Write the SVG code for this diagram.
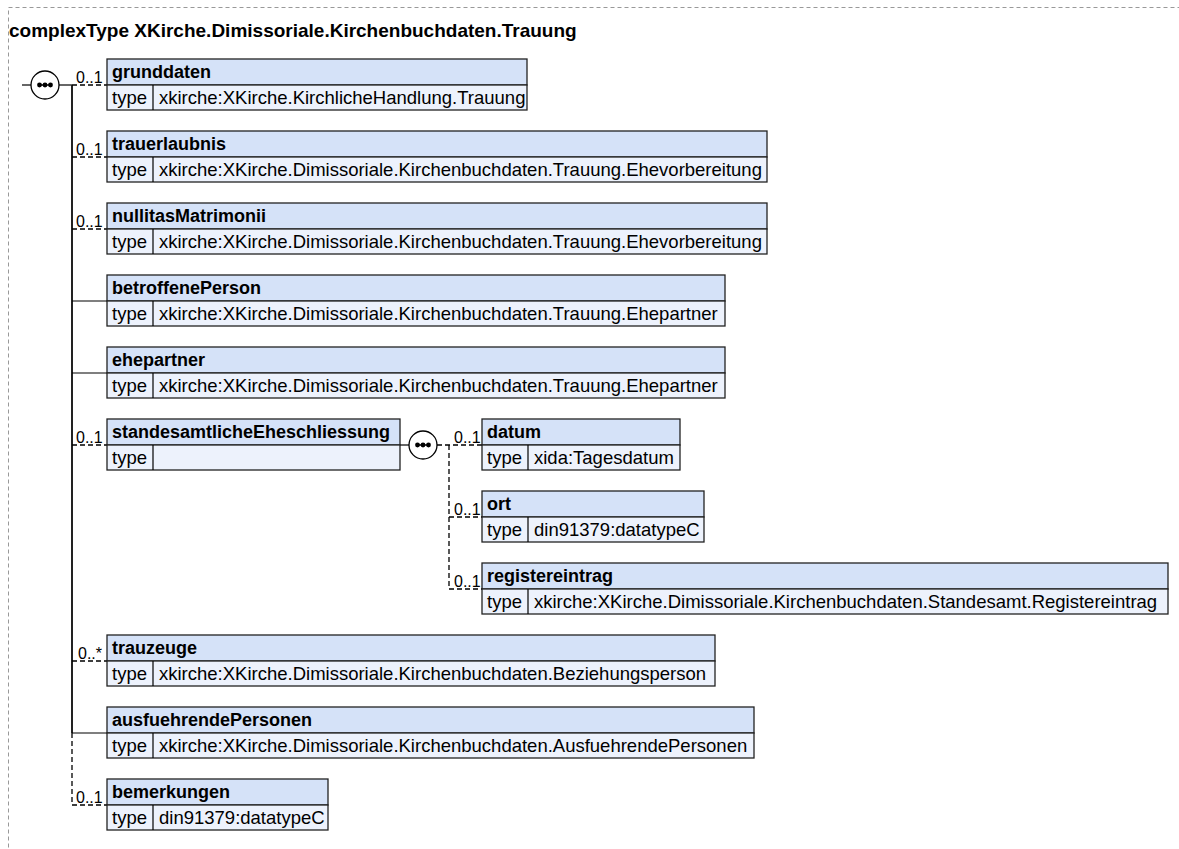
<svg xmlns="http://www.w3.org/2000/svg" width="1179" height="849" viewBox="0 0 1179 849">
<style>
text{font-family:"Liberation Sans",Arial,sans-serif;fill:#000}
.title{font-size:19px;font-weight:bold}
.name{font-size:18px;font-weight:bold}
.t{font-size:18.5px}
.card{font-size:16px}
.hd{fill:#d5e2f8;stroke:#222;stroke-width:1.3}
.tr{fill:#edf2fc;stroke:#222;stroke-width:1.3}
.solid{stroke:#000;stroke-width:1.2;fill:none}
.dash{stroke:#000;stroke-width:1.3;fill:none;stroke-dasharray:5,3}
.main{stroke:#222;stroke-width:2;fill:none}
.comp{fill:#fff;stroke:#000;stroke-width:1.3}
</style>
<rect x="8.5" y="7.5" width="1180" height="850" fill="none" stroke="#999" stroke-dasharray="4,3"/>
<text class="title" x="9" y="37">complexType XKirche.Dimissoriale.Kirchenbuchdaten.Trauung</text>

<g id="connectors">
<line class="solid" x1="22" y1="85" x2="31" y2="85"/>
<line class="solid" x1="59" y1="85" x2="72" y2="85"/>
<line class="main" x1="72" y1="85" x2="72" y2="733"/>
<line class="dash" x1="72" y1="733" x2="72" y2="805"/>
<line class="dash" x1="72" y1="85" x2="107" y2="85"/>
<line class="dash" x1="72" y1="157" x2="107" y2="157"/>
<line class="dash" x1="72" y1="229" x2="107" y2="229"/>
<line class="solid" x1="72" y1="301" x2="107" y2="301"/>
<line class="solid" x1="72" y1="373" x2="107" y2="373"/>
<line class="dash" x1="72" y1="445" x2="107" y2="445"/>
<line class="dash" x1="72" y1="661" x2="107" y2="661"/>
<line class="solid" x1="72" y1="733" x2="107" y2="733"/>
<line class="dash" x1="72" y1="805" x2="107" y2="805"/>
<line class="solid" x1="400" y1="445" x2="409" y2="445"/>
<line class="dash" x1="437" y1="445" x2="482" y2="445"/>
<line class="dash" x1="449" y1="445" x2="449" y2="589"/>
<line class="dash" x1="449" y1="517" x2="482" y2="517"/>
<line class="dash" x1="449" y1="589" x2="482" y2="589"/>
<text class="card" x="76" y="83">0..1</text>
<text class="card" x="76" y="155">0..1</text>
<text class="card" x="76" y="227">0..1</text>
<text class="card" x="76" y="443">0..1</text>
<text class="card" x="78" y="659">0..*</text>
<text class="card" x="76" y="803">0..1</text>
<text class="card" x="454" y="443">0..1</text>
<text class="card" x="454" y="515">0..1</text>
<text class="card" x="454" y="587">0..1</text>
</g>

<g id="seq1">
<circle class="comp" cx="45" cy="85" r="14"/>
<line x1="38" y1="85" x2="52" y2="85" stroke="#000" stroke-width="1.5"/>
<circle cx="39.5" cy="85" r="2.4"/><circle cx="45" cy="85" r="2.4"/><circle cx="50.5" cy="85" r="2.4"/>
</g>
<g id="seq2">
<circle class="comp" cx="423" cy="445" r="14"/>
<line x1="416" y1="445" x2="430" y2="445" stroke="#000" stroke-width="1.5"/>
<circle cx="417.5" cy="445" r="2.4"/><circle cx="423" cy="445" r="2.4"/><circle cx="428.5" cy="445" r="2.4"/>
</g>

<g id="grunddaten">
<rect class="hd" x="107" y="59" width="420" height="26"/>
<rect class="tr" x="107" y="85" width="420" height="25"/>
<line class="solid" x1="153" y1="85" x2="153" y2="110"/>
<text class="name" x="112" y="78">grunddaten</text>
<text class="t" x="112" y="104">type</text>
<text class="t" x="159" y="104">xkirche:XKirche.KirchlicheHandlung.Trauung</text>
</g>
<g id="trauerlaubnis">
<rect class="hd" x="107" y="131" width="660" height="26"/>
<rect class="tr" x="107" y="157" width="660" height="25"/>
<line class="solid" x1="153" y1="157" x2="153" y2="182"/>
<text class="name" x="112" y="150">trauerlaubnis</text>
<text class="t" x="112" y="176">type</text>
<text class="t" x="159" y="176">xkirche:XKirche.Dimissoriale.Kirchenbuchdaten.Trauung.Ehevorbereitung</text>
</g>
<g id="nullitasMatrimonii">
<rect class="hd" x="107" y="203" width="660" height="26"/>
<rect class="tr" x="107" y="229" width="660" height="25"/>
<line class="solid" x1="153" y1="229" x2="153" y2="254"/>
<text class="name" x="112" y="222">nullitasMatrimonii</text>
<text class="t" x="112" y="248">type</text>
<text class="t" x="159" y="248">xkirche:XKirche.Dimissoriale.Kirchenbuchdaten.Trauung.Ehevorbereitung</text>
</g>
<g id="betroffenePerson">
<rect class="hd" x="107" y="275" width="618" height="26"/>
<rect class="tr" x="107" y="301" width="618" height="25"/>
<line class="solid" x1="153" y1="301" x2="153" y2="326"/>
<text class="name" x="112" y="294">betroffenePerson</text>
<text class="t" x="112" y="320">type</text>
<text class="t" x="159" y="320">xkirche:XKirche.Dimissoriale.Kirchenbuchdaten.Trauung.Ehepartner</text>
</g>
<g id="ehepartner">
<rect class="hd" x="107" y="347" width="618" height="26"/>
<rect class="tr" x="107" y="373" width="618" height="25"/>
<line class="solid" x1="153" y1="373" x2="153" y2="398"/>
<text class="name" x="112" y="366">ehepartner</text>
<text class="t" x="112" y="392">type</text>
<text class="t" x="159" y="392">xkirche:XKirche.Dimissoriale.Kirchenbuchdaten.Trauung.Ehepartner</text>
</g>
<g id="standesamtlicheEheschliessung">
<rect class="hd" x="107" y="419" width="293" height="26"/>
<rect class="tr" x="107" y="445" width="293" height="25"/>
<line class="solid" x1="153" y1="445" x2="153" y2="470"/>
<text class="name" x="112" y="438">standesamtlicheEheschliessung</text>
<text class="t" x="112" y="464">type</text>
</g>
<g id="datum">
<rect class="hd" x="482" y="419" width="198" height="26"/>
<rect class="tr" x="482" y="445" width="198" height="25"/>
<line class="solid" x1="528" y1="445" x2="528" y2="470"/>
<text class="name" x="487" y="438">datum</text>
<text class="t" x="487" y="464">type</text>
<text class="t" x="534" y="464">xida:Tagesdatum</text>
</g>
<g id="ort">
<rect class="hd" x="482" y="491" width="222" height="26"/>
<rect class="tr" x="482" y="517" width="222" height="25"/>
<line class="solid" x1="528" y1="517" x2="528" y2="542"/>
<text class="name" x="487" y="510">ort</text>
<text class="t" x="487" y="536">type</text>
<text class="t" x="534" y="536">din91379:datatypeC</text>
</g>
<g id="registereintrag">
<rect class="hd" x="482" y="563" width="686" height="26"/>
<rect class="tr" x="482" y="589" width="686" height="25"/>
<line class="solid" x1="528" y1="589" x2="528" y2="614"/>
<text class="name" x="487" y="582">registereintrag</text>
<text class="t" x="487" y="608">type</text>
<text class="t" x="534" y="608">xkirche:XKirche.Dimissoriale.Kirchenbuchdaten.Standesamt.Registereintrag</text>
</g>
<g id="trauzeuge">
<rect class="hd" x="107" y="635" width="608" height="26"/>
<rect class="tr" x="107" y="661" width="608" height="25"/>
<line class="solid" x1="153" y1="661" x2="153" y2="686"/>
<text class="name" x="112" y="654">trauzeuge</text>
<text class="t" x="112" y="680">type</text>
<text class="t" x="159" y="680">xkirche:XKirche.Dimissoriale.Kirchenbuchdaten.Beziehungsperson</text>
</g>
<g id="ausfuehrendePersonen">
<rect class="hd" x="107" y="707" width="647" height="26"/>
<rect class="tr" x="107" y="733" width="647" height="25"/>
<line class="solid" x1="153" y1="733" x2="153" y2="758"/>
<text class="name" x="112" y="726">ausfuehrendePersonen</text>
<text class="t" x="112" y="752">type</text>
<text class="t" x="159" y="752">xkirche:XKirche.Dimissoriale.Kirchenbuchdaten.AusfuehrendePersonen</text>
</g>
<g id="bemerkungen">
<rect class="hd" x="107" y="779" width="221" height="26"/>
<rect class="tr" x="107" y="805" width="221" height="25"/>
<line class="solid" x1="153" y1="805" x2="153" y2="830"/>
<text class="name" x="112" y="798">bemerkungen</text>
<text class="t" x="112" y="824">type</text>
<text class="t" x="159" y="824">din91379:datatypeC</text>
</g>
</svg>
